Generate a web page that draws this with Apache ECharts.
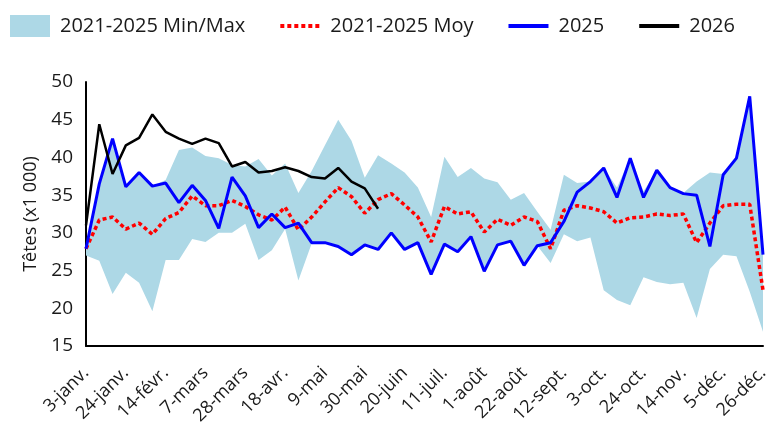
<!DOCTYPE html>
<html>
<head>
<meta charset="utf-8">
<title>Têtes (x1 000)</title>
<script src="https://cdn.jsdelivr.net/npm/echarts@6/dist/echarts.min.js"></script>
<style>
  html, body { margin: 0; padding: 0; background: #fff; }
  #chart { width: 774px; height: 424px; }
</style>
</head>
<body>
<div id="chart"></div>
<script>
// semaines (52 points), une étiquette sur trois affichée
const weeks = [
  '3-janv.', '10-janv.', '17-janv.', '24-janv.', '31-janv.',
  '7-févr.', '14-févr.', '21-févr.', '28-févr.',
  '7-mars', '14-mars', '21-mars', '28-mars',
  '4-avr.', '11-avr.', '18-avr.', '25-avr.',
  '2-mai', '9-mai', '16-mai', '23-mai', '30-mai',
  '6-juin', '13-juin', '20-juin', '27-juin',
  '4-juil.', '11-juil.', '18-juil.', '25-juil.',
  '1-août', '8-août', '15-août', '22-août', '29-août',
  '5-sept.', '12-sept.', '19-sept.', '26-sept.',
  '3-oct.', '10-oct.', '17-oct.', '24-oct.', '31-oct.',
  '7-nov.', '14-nov.', '21-nov.', '28-nov.',
  '5-déc.', '12-déc.', '19-déc.', '26-déc.'
]

const yTicks = { min: 15, max: 50, interval: 5 }

// bande 2021-2025
const bandMin = [
  27.0, 26.3, 21.9, 24.7, 23.4, 19.6, 26.4, 26.4, 29.2, 28.8,
  30.0, 30.0, 31.2, 26.4, 27.7, 30.5, 23.7, 28.6, 28.7, 28.2,
  27.1, 28.4, 27.8, 30.0, 27.8, 28.7, 24.5, 28.5, 27.5, 29.5,
  24.9, 28.4, 28.9, 25.7, 28.3, 26.0, 29.8, 28.9, 29.4, 22.4,
  21.1, 20.4, 24.1, 23.5, 23.2, 23.4, 18.7, 25.2, 27.1, 26.9,
  22.2, 16.9
]
const bandMax = [
  28.2, 36.5, 42.5, 36.1, 38.0, 36.2, 37.0, 41.0, 41.3, 40.2,
  39.9, 39.0, 38.8, 39.8, 37.6, 39.2, 35.3, 38.2, 41.6, 45.0,
  42.2, 37.3, 40.3, 39.2, 38.0, 36.0, 32.1, 40.1, 37.4, 38.6,
  37.2, 36.7, 34.4, 35.3, 32.8, 30.4, 37.7, 36.6, 36.8, 38.6,
  36.0, 39.9, 35.5, 38.3, 36.0, 35.3, 36.8, 38.0, 37.8, 39.9,
  48.1, 27.1
]

const moyenne = [
  27.9, 31.7, 32.1, 30.5, 31.3, 29.8, 31.9, 32.7, 34.9, 33.6,
  33.6, 34.3, 33.5, 32.4, 31.7, 33.4, 30.4, 32.1, 34.1, 36.0,
  34.8, 32.6, 34.4, 35.2, 33.7, 32.1, 28.8, 33.5, 32.5, 32.8,
  30.1, 31.8, 31.0, 32.1, 31.5, 27.9, 33.0, 33.6, 33.3, 32.8,
  31.3, 32.0, 32.1, 32.5, 32.3, 32.5, 28.7, 31.3, 33.6, 33.8,
  33.8, 22.4
]

const y2025 = [
  27.9, 36.5, 42.5, 36.1, 38.0, 36.2, 36.6, 34.0, 36.3, 34.3,
  30.6, 37.4, 34.9, 30.7, 32.5, 30.7, 31.3, 28.7, 28.7, 28.2,
  27.1, 28.4, 27.8, 30.0, 27.8, 28.7, 24.5, 28.5, 27.5, 29.5,
  24.9, 28.4, 28.9, 25.7, 28.3, 28.7, 31.5, 35.4, 36.8, 38.6,
  34.7, 39.9, 34.7, 38.3, 36.0, 35.2, 35.0, 28.2, 37.7, 39.9,
  48.1, 27.1
]

// 2026 : seulement jusqu'à début juin
const y2026 = [
  31.0, 44.4, 37.8, 41.6, 42.6, 45.7, 43.4, 42.5, 41.8, 42.5,
  41.9, 38.8, 39.4, 38.0, 38.2, 38.7, 38.2, 37.4, 37.2, 38.6,
  36.8, 35.9, 33.2
]

const font = 'Open Sans'
const bandRange = bandMax.map((v, i) => +(v - bandMin[i]).toFixed(2))

const chart = echarts.init(document.getElementById('chart'))

chart.setOption({
  animation: false,
  textStyle: { fontFamily: font },
  // v6 : ne pas rétrécir la grille pour faire tenir les étiquettes
  grid: { left: 86, right: 11, top: 82, bottom: 78, outerBoundsMode: 'none' },
  legend: {
    left: 5,
    top: 10,
    itemWidth: 40,
    itemHeight: 22,
    itemGap: 33,
    // pas de rond sur les icônes de ligne
    itemStyle: { opacity: 0 },
    textStyle: { fontSize: 20, color: '#1a1a1a', fontFamily: font, padding: [0, 0, 0, 5] },
    data: [
      { name: '2021-2025 Min/Max', icon: 'rect', itemStyle: { opacity: 1 } },
      { name: '2021-2025 Moy', lineStyle: { width: 4 } },
      { name: '2025', lineStyle: { width: 4 } },
      { name: '2026', lineStyle: { width: 4 } }
    ]
  },
  xAxis: {
    type: 'category',
    data: weeks,
    boundaryGap: false,
    axisLine: { lineStyle: { color: '#000', width: 2 } },
    axisTick: { show: false },
    axisLabel: {
      interval: 2,
      rotate: 45,
      fontSize: 18,
      color: '#1a1a1a',
      margin: 24
    }
  },
  yAxis: {
    type: 'value',
    min: yTicks.min,
    max: yTicks.max,
    interval: yTicks.interval,
    name: 'Têtes (x1 000)',
    nameLocation: 'middle',
    nameGap: 46,
    nameTextStyle: { fontSize: 18, color: '#1a1a1a' },
    splitLine: { show: false },
    axisLine: { show: true, lineStyle: { color: '#000', width: 2 } },
    axisTick: { show: false },
    axisLabel: { fontSize: 19, color: '#1a1a1a', margin: 13 }
  },
  series: [
    {
      // base invisible de la bande
      name: 'base',
      type: 'line',
      stack: 'band',
      data: bandMin,
      symbol: 'none',
      lineStyle: { opacity: 0 },
      silent: true
    },
    {
      name: '2021-2025 Min/Max',
      type: 'line',
      stack: 'band',
      data: bandRange,
      symbol: 'none',
      itemStyle: { color: '#ADD8E6' },
      lineStyle: { opacity: 0 },
      areaStyle: { color: '#ADD8E6', opacity: 1 }
    },
    {
      name: '2021-2025 Moy',
      type: 'line',
      data: moyenne,
      symbol: 'none',
      itemStyle: { color: '#FF0000' },
      lineStyle: { color: '#FF0000', width: 3.5, type: [4, 3] }
    },
    {
      name: '2025',
      type: 'line',
      data: y2025,
      symbol: 'none',
      itemStyle: { color: '#0000FF' },
      lineStyle: { color: '#0000FF', width: 3 }
    },
    {
      name: '2026',
      type: 'line',
      data: y2026,
      symbol: 'none',
      itemStyle: { color: '#000000' },
      lineStyle: { color: '#000000', width: 2.5 }
    }
  ]
})
</script>
</body>
</html>
